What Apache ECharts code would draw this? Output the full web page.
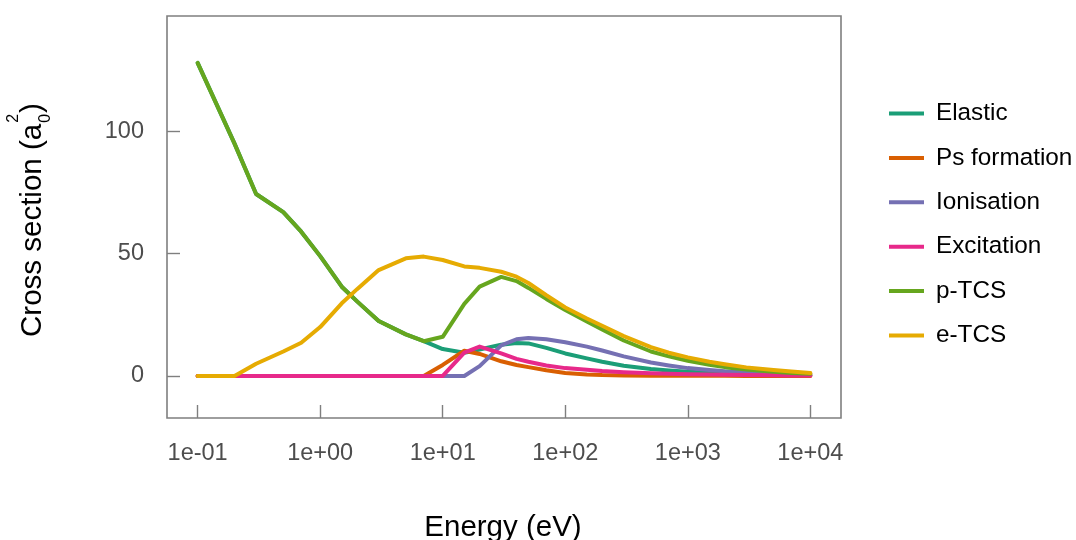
<!DOCTYPE html>
<html>
<head>
<meta charset="utf-8">
<script src="https://cdn.jsdelivr.net/npm/echarts@6/dist/echarts.min.js"></script>
<style>
  html, body { margin: 0; padding: 0; background: #fff; }
  #chart { width: 1076px; height: 540px; }
</style>
</head>
<body>
<div id="chart"></div>
<script>
// Positron scattering cross sections vs impact energy
const energy = [0.1, 0.2, 0.3, 0.5, 0.7, 1, 1.5, 2, 3, 5, 7, 10, 15, 20, 30, 40, 50, 70,
  100, 150, 200, 300, 500, 700, 1000, 1500, 2000, 3000, 5000, 7000, 10000];

const elastic = [128, 95, 74.4, 67, 59, 49, 36.5, 30.5, 22.5, 17, 14.2, 11, 9.5, 10.8, 12.8, 13.5, 13.3, 11.5,
  9.2, 7.2, 5.8, 4.2, 2.8, 2.2, 1.7, 1.3, 1.1, 0.8, 0.55, 0.4, 0.3];
const psFormation = [0, 0, 0, 0, 0, 0, 0, 0, 0, 0, 0, 4.5, 10.3, 9, 6, 4.5, 3.6, 2.3,
  1.2, 0.6, 0.35, 0.2, 0.1, 0.06, 0.05, 0.04, 0.03, 0.02, 0.02, 0.01, 0.01];
const ionisation = [0, 0, 0, 0, 0, 0, 0, 0, 0, 0, 0, 0, 0, 4, 12.5, 15, 15.5, 15,
  13.8, 12, 10.4, 8, 5.5, 4.3, 3.2, 2.4, 1.9, 1.4, 0.9, 0.7, 0.5];
const excitation = [0, 0, 0, 0, 0, 0, 0, 0, 0, 0, 0, 0, 9.5, 12, 9.2, 7, 5.8, 4.3,
  3.2, 2.5, 2.0, 1.5, 1.1, 0.9, 0.7, 0.55, 0.45, 0.35, 0.25, 0.2, 0.15];
const pTCS = [128, 95, 74.4, 67, 59, 49, 36.5, 30.5, 22.5, 17, 14.2, 16, 29.5, 36.5, 40.5, 38.8, 36, 31.5,
  27, 22.3, 19, 14.5, 10, 8, 6.2, 4.6, 3.6, 2.6, 1.7, 1.2, 0.9];
const eTCS = [0, 0, 5, 10, 13.6, 20, 29.7, 35.5, 43.3, 48.1, 48.8, 47.4, 44.8, 44.2, 42.6, 40.6, 38, 33,
  28, 23.5, 20.5, 16.3, 11.8, 9.5, 7.6, 5.8, 4.8, 3.5, 2.4, 1.8, 1.2];

const seriesNames = ['Elastic', 'Ps formation', 'Ionisation', 'Excitation', 'p-TCS', 'e-TCS'];
const seriesValues = [elastic, psFormation, ionisation, excitation, pTCS, eTCS];
const seriesColors = ['#1B9E77', '#D95F02', '#7570B3', '#E7298A', '#66A61E', '#E6AB02'];

const xTicks = [0.1, 1, 10, 100, 1000, 10000];
const yTicks = [0, 50, 100];

const FONT = "'Liberation Sans', Arial, sans-serif";
const GREY = '#7f7f7f';

function sciLabel(v) {
  const e = Math.round(Math.log10(v));
  const s = e < 0 ? '-' : '+';
  const a = Math.abs(e);
  return '1e' + s + (a < 10 ? '0' : '') + a;
}

// text width helper for the composed y-axis title
const measureCtx = document.createElement('canvas').getContext('2d');
function textWidth(str, size) {
  measureCtx.font = size + 'px ' + FONT;
  return measureCtx.measureText(str).width;
}

const yMain = 'Cross section (a';
const mainSize = 29.5, scriptSize = 16;
const wMain = textWidth(yMain, mainSize);
const wScript = textWidth('2', scriptSize);

const chart = echarts.init(document.getElementById('chart'), null, { renderer: 'canvas' });

chart.setOption({
  animation: false,
  backgroundColor: '#ffffff',
  grid: {
    left: 167, right: 235, top: 16, bottom: 122,
    show: true, borderColor: GREY, borderWidth: 1.6, backgroundColor: 'transparent'
  },
  xAxis: {
    type: 'log',
    logBase: 10,
    min: Math.pow(10, -1.25),
    max: Math.pow(10, 4.25),
    axisLine: { show: false, onZero: false },
    splitLine: { show: false },
    axisTick: {
      show: true, inside: true, length: 13,
      lineStyle: { color: GREY, width: 1.4 },
      customValues: xTicks
    },
    axisLabel: {
      customValues: xTicks,
      formatter: sciLabel,
      color: '#4d4d4d', fontSize: 23.5, fontFamily: FONT, margin: 24
    }
  },
  yAxis: {
    type: 'value',
    min: -17.2,
    max: 147.2,
    axisLine: { show: false, onZero: false },
    splitLine: { show: false },
    axisTick: {
      show: true, inside: true, length: 13,
      lineStyle: { color: GREY, width: 1.4 },
      customValues: yTicks
    },
    axisLabel: {
      customValues: yTicks,
      color: '#4d4d4d', fontSize: 23.5, fontFamily: FONT, margin: 23
    }
  },
  legend: {
    orient: 'vertical',
    left: 889, top: 101.5,
    padding: 0,
    icon: 'rect',
    itemWidth: 35, itemHeight: 4, itemGap: 20.4,
    data: seriesNames,
    textStyle: { color: '#000', fontSize: 24.3, lineHeight: 24, fontFamily: FONT, padding: [0, 0, 0, 7] }
  },
  graphic: [
    {
      type: 'text',
      style: {
        text: 'Energy (eV)', x: 503, y: 528,
        fontSize: 29.5, fontFamily: FONT, fill: '#000',
        textAlign: 'center', textVerticalAlign: 'middle'
      }
    },
    {
      type: 'group', x: 42, y: 337, rotation: Math.PI / 2,
      children: [
        { type: 'text', style: { text: yMain, x: 0, y: -9, fontSize: mainSize, fontFamily: FONT, fill: '#000', textAlign: 'left', textVerticalAlign: 'middle' } },
        { type: 'text', style: { text: '2', x: wMain + 1, y: -28, fontSize: scriptSize, fontFamily: FONT, fill: '#000', textAlign: 'left', textVerticalAlign: 'middle' } },
        { type: 'text', style: { text: '0', x: wMain + 1, y: 4, fontSize: scriptSize, fontFamily: FONT, fill: '#000', textAlign: 'left', textVerticalAlign: 'middle' } },
        { type: 'text', style: { text: ')', x: wMain + wScript + 2, y: -9, fontSize: mainSize, fontFamily: FONT, fill: '#000', textAlign: 'left', textVerticalAlign: 'middle' } }
      ]
    }
  ],
  series: seriesNames.map((name, i) => ({
    name: name,
    type: 'line',
    symbol: 'none',
    z: 2 + i,
    data: energy.map((e, k) => [e, seriesValues[i][k]]),
    lineStyle: { color: seriesColors[i], width: 4, cap: 'round', join: 'round' },
    itemStyle: { color: seriesColors[i] }
  }))
});
</script>
</body>
</html>
